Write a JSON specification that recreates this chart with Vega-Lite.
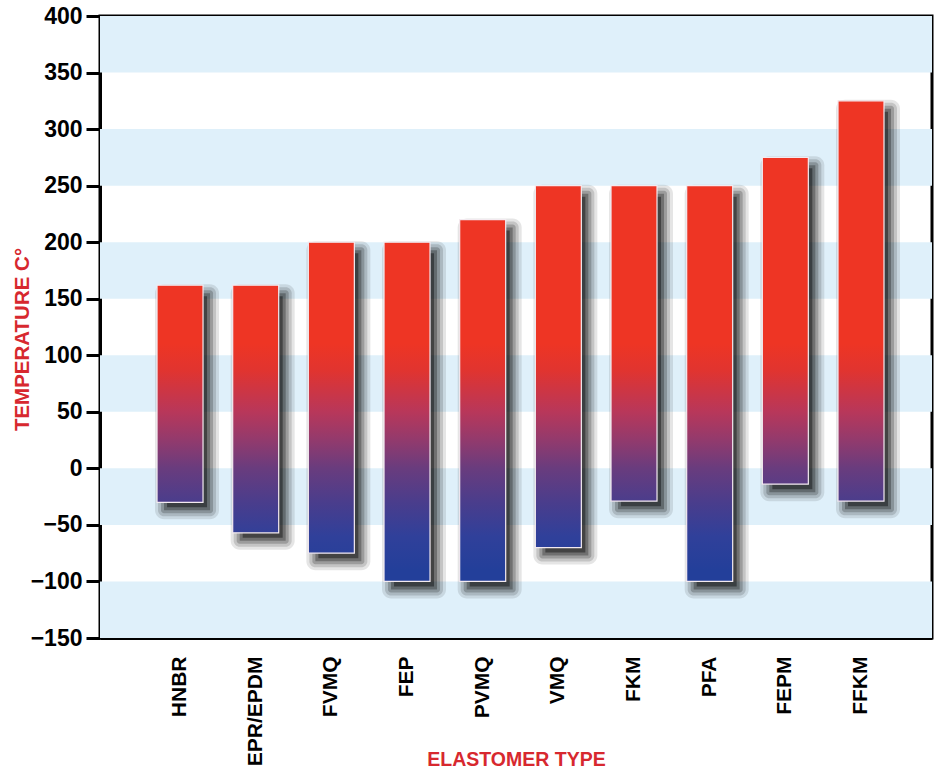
{
  "$schema": "https://vega.github.io/schema/vega-lite/v6.json",
  "width": 832,
  "height": 622,
  "autosize": {"type": "none"},
  "padding": {"left": 100, "top": 16, "right": 7, "bottom": 131},
  "background": "white",
  "config": {"view": {"stroke": "black", "strokeWidth": 3}},
  "datasets": {
    "el": [
      {"type": "HNBR", "low": -30, "high": 162},
      {"type": "EPR/EPDM", "low": -57, "high": 162},
      {"type": "FVMQ", "low": -75, "high": 200},
      {"type": "FEP", "low": -100, "high": 200},
      {"type": "PVMQ", "low": -100, "high": 220},
      {"type": "VMQ", "low": -70, "high": 250},
      {"type": "FKM", "low": -29, "high": 250},
      {"type": "PFA", "low": -100, "high": 250},
      {"type": "FEPM", "low": -14, "high": 275},
      {"type": "FFKM", "low": -29, "high": 325}
    ],
    "bands": [
      {"b0": -150, "b1": -100},
      {"b0": -50, "b1": 0},
      {"b0": 50, "b1": 100},
      {"b0": 150, "b1": 200},
      {"b0": 250, "b1": 300},
      {"b0": 350, "b1": 400}
    ]
  },
  "layer": [
    {
      "data": {"name": "bands"},
      "mark": {"type": "rect", "color": "#dff0fa"},
      "encoding": {
        "y": {"field": "b1", "type": "quantitative", "title": "TEMPERATURE C°", "scale": {"domain": [-150, 400], "nice": false, "zero": false},
          "axis": {"title": "TEMPERATURE C°", "values": [-150, -100, -50, 0, 50, 100, 150, 200, 250, 300, 350, 400],
            "labelFont": "Liberation Sans", "labelFontWeight": "bold", "labelFontSize": 23, "labelColor": "black",
            "tickSize": 14, "tickWidth": 3, "tickColor": "black", "domainColor": "black", "domainWidth": 3,
            "labelPadding": 4, "grid": false,
            "titleFont": "Liberation Sans", "titleFontSize": 20.5, "titleFontWeight": "bold", "titleColor": "#d7282f",
            "titleAngle": -90, "titleX": -72, "titleY": 323, "titleAlign": "center", "titleBaseline": "alphabetic"}},
        "y2": {"field": "b0"}
      }
    },
    {
      "data": {"name": "el"},
      "mark": {"type": "bar", "color": "black", "opacity": 0.1, "width": 64, "xOffset": 7, "yOffset": -1, "y2Offset": 17, "cornerRadius": 9},
      "encoding": {
        "x": {"field": "type", "type": "nominal", "sort": null, "title": "ELASTOMER TYPE",
          "scale": {"domain": ["HNBR", "EPR/EPDM", "FVMQ", "FEP", "PVMQ", "VMQ", "FKM", "PFA", "FEPM", "FFKM"], "paddingInner": 0.392, "paddingOuter": 0.694, "align": 0.543},
          "axis": {"title": "ELASTOMER TYPE", "labelAngle": -90, "labelFont": "Liberation Sans", "labelFontWeight": "bold", "labelFontSize": 21,
            "labelColor": "black", "ticks": false, "domainColor": "black", "domainWidth": 3, "labelPadding": 18, "labelLimit": 0,
            "titleFont": "Liberation Sans", "titleFontSize": 19.5, "titleFontWeight": "bold", "titleColor": "#d7282f",
            "titleY": 127, "titleBaseline": "alphabetic"}},
        "y": {"field": "high", "type": "quantitative", "title": "TEMPERATURE C°"},
        "y2": {"field": "low"}
      }
    },
    {
      "data": {"name": "el"},
      "mark": {"type": "bar", "color": "black", "opacity": 0.14, "width": 58, "xOffset": 7, "yOffset": 2, "y2Offset": 14, "cornerRadius": 6},
      "encoding": {
        "x": {"field": "type", "type": "nominal", "sort": null, "title": "ELASTOMER TYPE"},
        "y": {"field": "high", "type": "quantitative", "title": "TEMPERATURE C°"},
        "y2": {"field": "low"}
      }
    },
    {
      "data": {"name": "el"},
      "mark": {"type": "bar", "color": "black", "opacity": 0.2, "width": 52, "xOffset": 7, "yOffset": 5, "y2Offset": 11, "cornerRadius": 3},
      "encoding": {
        "x": {"field": "type", "type": "nominal", "sort": null, "title": "ELASTOMER TYPE"},
        "y": {"field": "high", "type": "quantitative", "title": "TEMPERATURE C°"},
        "y2": {"field": "low"}
      }
    },
    {
      "data": {"name": "el"},
      "mark": {"type": "bar", "color": "black", "opacity": 0.28, "width": 46, "xOffset": 7, "yOffset": 8, "y2Offset": 8},
      "encoding": {
        "x": {"field": "type", "type": "nominal", "sort": null, "title": "ELASTOMER TYPE"},
        "y": {"field": "high", "type": "quantitative", "title": "TEMPERATURE C°"},
        "y2": {"field": "low"}
      }
    },
    {
      "data": {"name": "el"},
      "mark": {"type": "bar", "color": "black", "opacity": 0.4, "width": 40, "xOffset": 7, "yOffset": 11, "y2Offset": 5},
      "encoding": {
        "x": {"field": "type", "type": "nominal", "sort": null, "title": "ELASTOMER TYPE"},
        "y": {"field": "high", "type": "quantitative", "title": "TEMPERATURE C°"},
        "y2": {"field": "low"}
      }
    },
    {"data": {"name": "el"}, "transform": [{"filter": "datum.type === 'HNBR'"}],
      "mark": {"type": "bar", "stroke": "#f3eaf0", "strokeWidth": 1.2, "fill": {"gradient": "linear", "x1": 0, "y1": 0.2708, "x2": 0, "y2": 1.3125,
        "stops": [{"offset": 0, "color": "#ee3524"}, {"offset": 0.12, "color": "#e03430"}, {"offset": 0.3, "color": "#b8375a"}, {"offset": 0.42, "color": "#943a6c"}, {"offset": 0.55, "color": "#693c7e"}, {"offset": 0.7, "color": "#4a3d8c"}, {"offset": 0.85, "color": "#30409a"}, {"offset": 1, "color": "#233f9a"}]}},
      "encoding": {"x": {"field": "type", "type": "nominal", "sort": null, "title": "ELASTOMER TYPE"}, "y": {"field": "high", "type": "quantitative", "title": "TEMPERATURE C°"}, "y2": {"field": "low"}}},
    {"data": {"name": "el"}, "transform": [{"filter": "datum.type === 'EPR/EPDM'"}],
      "mark": {"type": "bar", "stroke": "#f3eaf0", "strokeWidth": 1.2, "fill": {"gradient": "linear", "x1": 0, "y1": 0.2374, "x2": 0, "y2": 1.1507,
        "stops": [{"offset": 0, "color": "#ee3524"}, {"offset": 0.12, "color": "#e03430"}, {"offset": 0.3, "color": "#b8375a"}, {"offset": 0.42, "color": "#943a6c"}, {"offset": 0.55, "color": "#693c7e"}, {"offset": 0.7, "color": "#4a3d8c"}, {"offset": 0.85, "color": "#30409a"}, {"offset": 1, "color": "#233f9a"}]}},
      "encoding": {"x": {"field": "type", "type": "nominal", "sort": null, "title": "ELASTOMER TYPE"}, "y": {"field": "high", "type": "quantitative", "title": "TEMPERATURE C°"}, "y2": {"field": "low"}}},
    {"data": {"name": "el"}, "transform": [{"filter": "datum.type === 'FVMQ'"}],
      "mark": {"type": "bar", "stroke": "#f3eaf0", "strokeWidth": 1.2, "fill": {"gradient": "linear", "x1": 0, "y1": 0.3273, "x2": 0, "y2": 1.0545,
        "stops": [{"offset": 0, "color": "#ee3524"}, {"offset": 0.12, "color": "#e03430"}, {"offset": 0.3, "color": "#b8375a"}, {"offset": 0.42, "color": "#943a6c"}, {"offset": 0.55, "color": "#693c7e"}, {"offset": 0.7, "color": "#4a3d8c"}, {"offset": 0.85, "color": "#30409a"}, {"offset": 1, "color": "#233f9a"}]}},
      "encoding": {"x": {"field": "type", "type": "nominal", "sort": null, "title": "ELASTOMER TYPE"}, "y": {"field": "high", "type": "quantitative", "title": "TEMPERATURE C°"}, "y2": {"field": "low"}}},
    {"data": {"name": "el"}, "transform": [{"filter": "datum.type === 'FEP'"}],
      "mark": {"type": "bar", "stroke": "#f3eaf0", "strokeWidth": 1.2, "fill": {"gradient": "linear", "x1": 0, "y1": 0.3, "x2": 0, "y2": 0.9667,
        "stops": [{"offset": 0, "color": "#ee3524"}, {"offset": 0.12, "color": "#e03430"}, {"offset": 0.3, "color": "#b8375a"}, {"offset": 0.42, "color": "#943a6c"}, {"offset": 0.55, "color": "#693c7e"}, {"offset": 0.7, "color": "#4a3d8c"}, {"offset": 0.85, "color": "#30409a"}, {"offset": 1, "color": "#233f9a"}]}},
      "encoding": {"x": {"field": "type", "type": "nominal", "sort": null, "title": "ELASTOMER TYPE"}, "y": {"field": "high", "type": "quantitative", "title": "TEMPERATURE C°"}, "y2": {"field": "low"}}},
    {"data": {"name": "el"}, "transform": [{"filter": "datum.type === 'PVMQ'"}],
      "mark": {"type": "bar", "stroke": "#f3eaf0", "strokeWidth": 1.2, "fill": {"gradient": "linear", "x1": 0, "y1": 0.3438, "x2": 0, "y2": 0.9688,
        "stops": [{"offset": 0, "color": "#ee3524"}, {"offset": 0.12, "color": "#e03430"}, {"offset": 0.3, "color": "#b8375a"}, {"offset": 0.42, "color": "#943a6c"}, {"offset": 0.55, "color": "#693c7e"}, {"offset": 0.7, "color": "#4a3d8c"}, {"offset": 0.85, "color": "#30409a"}, {"offset": 1, "color": "#233f9a"}]}},
      "encoding": {"x": {"field": "type", "type": "nominal", "sort": null, "title": "ELASTOMER TYPE"}, "y": {"field": "high", "type": "quantitative", "title": "TEMPERATURE C°"}, "y2": {"field": "low"}}},
    {"data": {"name": "el"}, "transform": [{"filter": "datum.type === 'VMQ'"}],
      "mark": {"type": "bar", "stroke": "#f3eaf0", "strokeWidth": 1.2, "fill": {"gradient": "linear", "x1": 0, "y1": 0.4375, "x2": 0, "y2": 1.0625,
        "stops": [{"offset": 0, "color": "#ee3524"}, {"offset": 0.12, "color": "#e03430"}, {"offset": 0.3, "color": "#b8375a"}, {"offset": 0.42, "color": "#943a6c"}, {"offset": 0.55, "color": "#693c7e"}, {"offset": 0.7, "color": "#4a3d8c"}, {"offset": 0.85, "color": "#30409a"}, {"offset": 1, "color": "#233f9a"}]}},
      "encoding": {"x": {"field": "type", "type": "nominal", "sort": null, "title": "ELASTOMER TYPE"}, "y": {"field": "high", "type": "quantitative", "title": "TEMPERATURE C°"}, "y2": {"field": "low"}}},
    {"data": {"name": "el"}, "transform": [{"filter": "datum.type === 'FKM'"}],
      "mark": {"type": "bar", "stroke": "#f3eaf0", "strokeWidth": 1.2, "fill": {"gradient": "linear", "x1": 0, "y1": 0.5018, "x2": 0, "y2": 1.2186,
        "stops": [{"offset": 0, "color": "#ee3524"}, {"offset": 0.12, "color": "#e03430"}, {"offset": 0.3, "color": "#b8375a"}, {"offset": 0.42, "color": "#943a6c"}, {"offset": 0.55, "color": "#693c7e"}, {"offset": 0.7, "color": "#4a3d8c"}, {"offset": 0.85, "color": "#30409a"}, {"offset": 1, "color": "#233f9a"}]}},
      "encoding": {"x": {"field": "type", "type": "nominal", "sort": null, "title": "ELASTOMER TYPE"}, "y": {"field": "high", "type": "quantitative", "title": "TEMPERATURE C°"}, "y2": {"field": "low"}}},
    {"data": {"name": "el"}, "transform": [{"filter": "datum.type === 'PFA'"}],
      "mark": {"type": "bar", "stroke": "#f3eaf0", "strokeWidth": 1.2, "fill": {"gradient": "linear", "x1": 0, "y1": 0.4, "x2": 0, "y2": 0.9714,
        "stops": [{"offset": 0, "color": "#ee3524"}, {"offset": 0.12, "color": "#e03430"}, {"offset": 0.3, "color": "#b8375a"}, {"offset": 0.42, "color": "#943a6c"}, {"offset": 0.55, "color": "#693c7e"}, {"offset": 0.7, "color": "#4a3d8c"}, {"offset": 0.85, "color": "#30409a"}, {"offset": 1, "color": "#233f9a"}]}},
      "encoding": {"x": {"field": "type", "type": "nominal", "sort": null, "title": "ELASTOMER TYPE"}, "y": {"field": "high", "type": "quantitative", "title": "TEMPERATURE C°"}, "y2": {"field": "low"}}},
    {"data": {"name": "el"}, "transform": [{"filter": "datum.type === 'FEPM'"}],
      "mark": {"type": "bar", "stroke": "#f3eaf0", "strokeWidth": 1.2, "fill": {"gradient": "linear", "x1": 0, "y1": 0.5709, "x2": 0, "y2": 1.263,
        "stops": [{"offset": 0, "color": "#ee3524"}, {"offset": 0.12, "color": "#e03430"}, {"offset": 0.3, "color": "#b8375a"}, {"offset": 0.42, "color": "#943a6c"}, {"offset": 0.55, "color": "#693c7e"}, {"offset": 0.7, "color": "#4a3d8c"}, {"offset": 0.85, "color": "#30409a"}, {"offset": 1, "color": "#233f9a"}]}},
      "encoding": {"x": {"field": "type", "type": "nominal", "sort": null, "title": "ELASTOMER TYPE"}, "y": {"field": "high", "type": "quantitative", "title": "TEMPERATURE C°"}, "y2": {"field": "low"}}},
    {"data": {"name": "el"}, "transform": [{"filter": "datum.type === 'FFKM'"}],
      "mark": {"type": "bar", "stroke": "#f3eaf0", "strokeWidth": 1.2, "fill": {"gradient": "linear", "x1": 0, "y1": 0.6073, "x2": 0, "y2": 1.1723,
        "stops": [{"offset": 0, "color": "#ee3524"}, {"offset": 0.12, "color": "#e03430"}, {"offset": 0.3, "color": "#b8375a"}, {"offset": 0.42, "color": "#943a6c"}, {"offset": 0.55, "color": "#693c7e"}, {"offset": 0.7, "color": "#4a3d8c"}, {"offset": 0.85, "color": "#30409a"}, {"offset": 1, "color": "#233f9a"}]}},
      "encoding": {"x": {"field": "type", "type": "nominal", "sort": null, "title": "ELASTOMER TYPE"}, "y": {"field": "high", "type": "quantitative", "title": "TEMPERATURE C°"}, "y2": {"field": "low"}}}
  ]
}
